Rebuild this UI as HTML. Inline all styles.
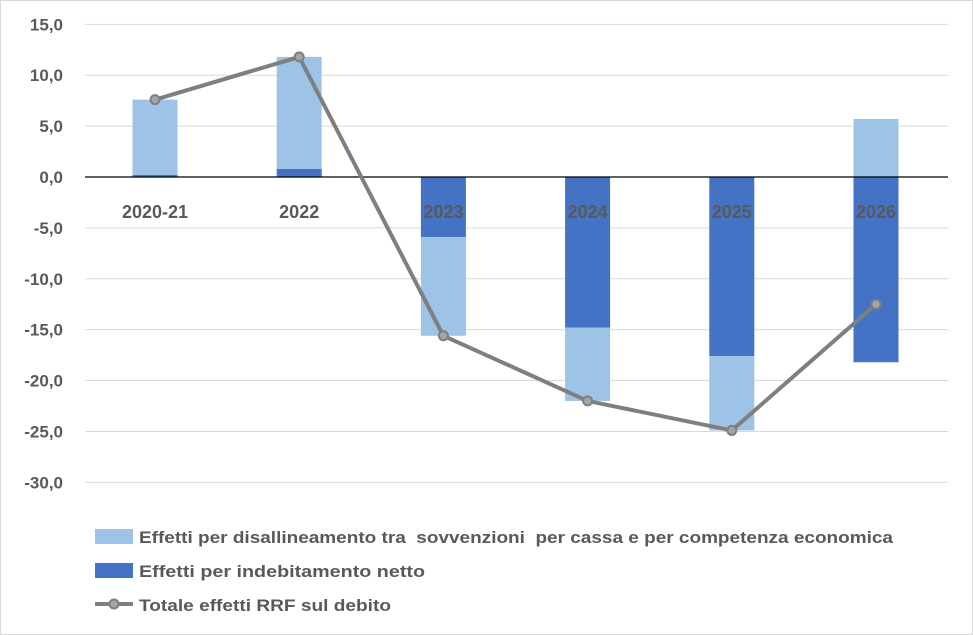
<!DOCTYPE html>
<html><head><meta charset="utf-8"><style>
body{margin:0;background:#fff}
svg{display:block;font-family:"Liberation Sans",Arial,sans-serif}
</style></head><body>
<svg width="973" height="635" viewBox="0 0 973 635">
<rect x="0.5" y="0.5" width="972" height="634" fill="#fff" stroke="#d9d9d9"/>
<g id="grid"></g><g id="bars"></g><g id="axis"></g><g id="line"></g><g id="labels"></g>
<g font-weight="bold" fill="#595959">
<rect x="95" y="529" width="38" height="15" fill="#9dc3e6"/>
<text x="139" y="543" font-size="17" xml:space="preserve" textLength="754" lengthAdjust="spacingAndGlyphs">Effetti per disallineamento tra  sovvenzioni  per cassa e per competenza economica</text>
<rect x="95" y="563" width="38" height="15" fill="#4472c4"/>
<text x="139" y="577" font-size="17" textLength="286" lengthAdjust="spacingAndGlyphs">Effetti per indebitamento netto</text>
<line x1="95" y1="604" x2="133" y2="604" stroke="#7f7f7f" stroke-width="4"/>
<circle cx="114" cy="604" r="4.5" fill="#a5a5a5" stroke="#7f7f7f" stroke-width="2"/>
<text x="139" y="611" font-size="17" textLength="252" lengthAdjust="spacingAndGlyphs">Totale effetti RRF sul debito</text>
</g>
</svg>
<script>
const categories=["2020-21","2022","2023","2024","2025","2026"];
const netBorrowing=[0.2,0.8,-5.9,-14.8,-17.6,-18.2];
const misalignment=[7.4,11.0,-9.7,-7.2,-7.3,5.7];
const total=[7.6,11.8,-15.6,-22.0,-24.9,-12.5];
const ticks=[15,10,5,0,-5,-10,-15,-20,-25,-30];
const NS="http://www.w3.org/2000/svg";
const y=v=>177-v*(458/45);
const x=i=>155+i*144.2;
const bw=45;
function mk(t,a,p){const e=document.createElementNS(NS,t);for(const k in a)e.setAttribute(k,a[k]);document.getElementById(p).appendChild(e);return e;}
ticks.forEach(t=>{
  if(t!==0){const g=mk("line",{x1:85,x2:948,y1:y(t),y2:y(t),stroke:"#d9d9d9","stroke-width":1},"grid");
  
  }
  const l=mk("text",{x:63,y:y(t)+6,"text-anchor":"end","font-size":17,"font-weight":"bold",fill:"#595959"},"labels");
  l.textContent=t.toFixed(1).replace(".",",");
  
  
});
categories.forEach((c,i)=>{
  let pos=0,neg=0;
  [[netBorrowing[i],"#4472c4","bar-net-borrowing"],[misalignment[i],"#9dc3e6","bar-misalignment"]].forEach(([v,col,nm])=>{
    let a,b;
    if(v>=0){a=pos;b=pos+v;pos=b;}else{a=neg;b=neg+v;neg=b;}
    const r=mk("rect",{x:x(i)-bw/2,width:bw,y:Math.min(y(a),y(b)),height:Math.abs(y(a)-y(b)),fill:col},"bars");
    
    
  });
  const t=mk("text",{x:x(i),y:218,"text-anchor":"middle","font-size":18,"font-weight":"bold",fill:"#595959"},"labels");
  t.textContent=c;
  
  
});
const ax=mk("line",{x1:85,x2:948,y1:y(0),y2:y(0),stroke:"#000","stroke-width":1.3},"axis");


const pl=mk("polyline",{points:total.map((v,i)=>x(i)+","+y(v)).join(" "),fill:"none",stroke:"#7f7f7f","stroke-width":4,"stroke-linejoin":"round"},"line");


total.forEach((v,i)=>{
  const c=mk("circle",{cx:x(i),cy:y(v),r:4.5,fill:"#a5a5a5",stroke:"#7f7f7f","stroke-width":2},"line");
  
  
});
</script>
</body></html>
